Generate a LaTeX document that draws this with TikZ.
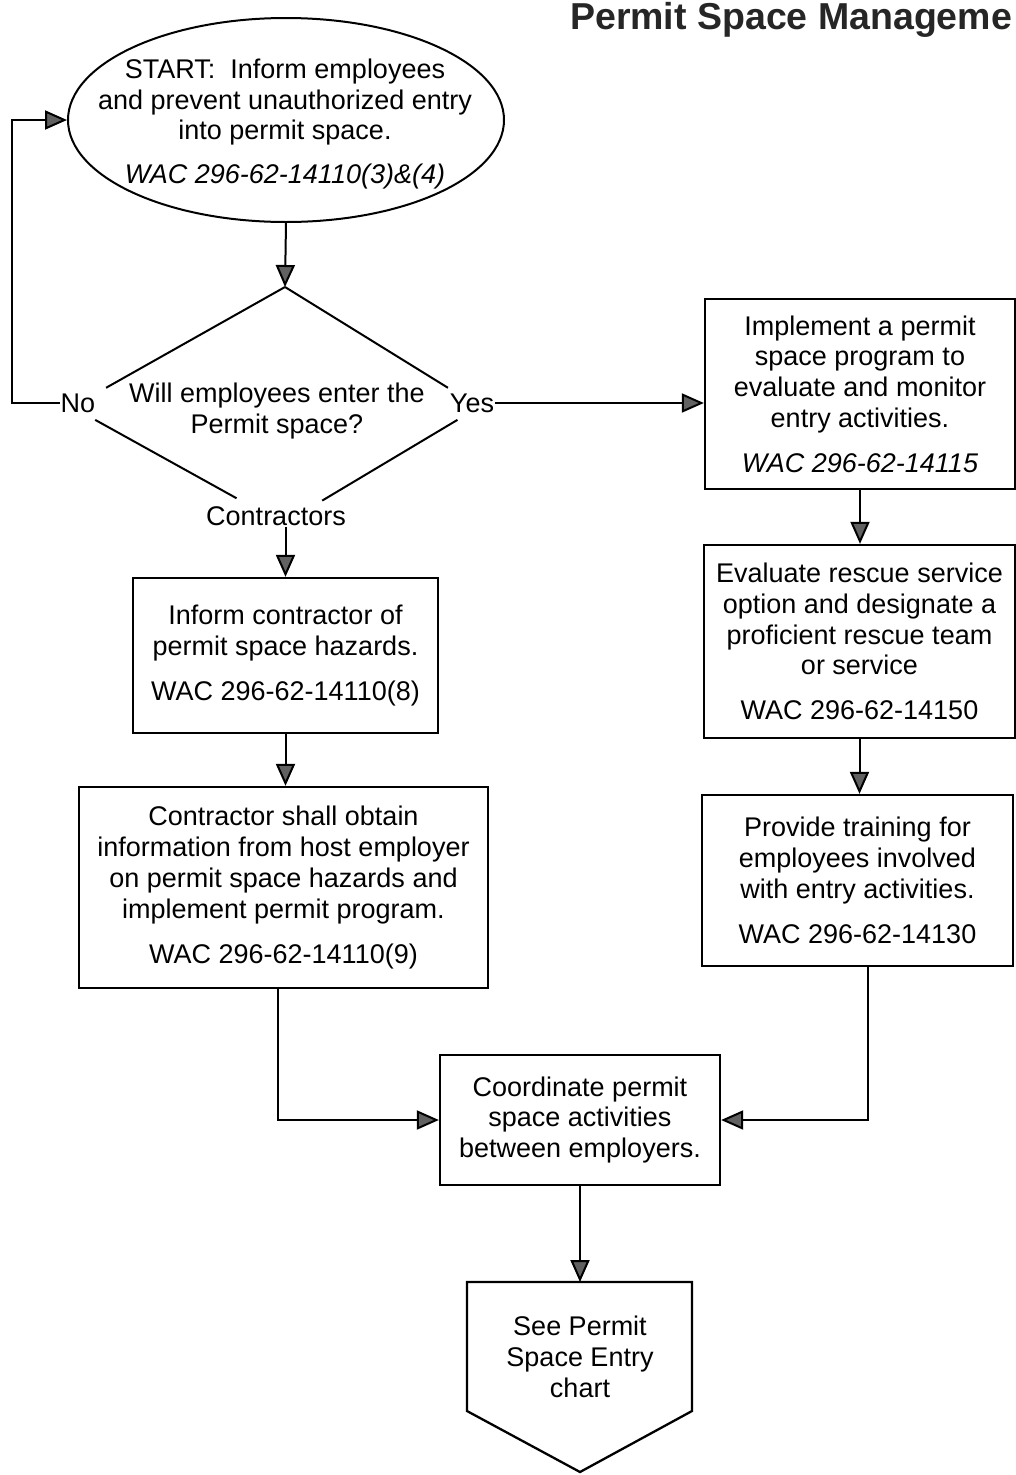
\documentclass[tikz,border=0pt]{standalone}
\usepackage{fontspec}
\setmainfont{Liberation Sans}
\usetikzlibrary{arrows.meta,calc,shapes.geometric}
\begin{document}
\begin{tikzpicture}[x=1pt,y=-1pt,
  txt/.style={align=center, inner sep=0pt, font=\fontsize{27}{30.8}\selectfont},
  box/.style={txt, draw=black, line width=2.3pt},
  lbl/.style={txt, inner sep=1pt},
  ln/.style={line width=2pt},
  arr/.style={line width=2pt, -{Triangle[length=22pt,width=19pt,fill=black!62]}},
]
\useasboundingbox (0,0) rectangle (1016,1475);

% title
\node[anchor=base west, inner sep=0pt, font=\fontsize{37.5}{40}\selectfont\bfseries, text=black!85] (title) at (570,29) {Permit Space Manageme};

% start ellipse
\node[draw, ellipse, line width=2pt, minimum width=436pt, minimum height=204pt, inner sep=0pt] (start) at (286,120) {};
\node[txt] (starttxt) at (285,124)
  {START:\ \ Inform employees\\and prevent unauthorized entry\\into permit space.\\[13pt]\textit{WAC 296-62-14110(3)\&(4)}};

% decision diamond
\coordinate (T) at (285,287);
\coordinate (L) at (72,407);
\coordinate (R) at (479,407);
\coordinate (B) at (283,524);
\draw[ln] (T) -- ($(T)!0.84!(L)$);
\draw[ln] (T) -- ($(T)!0.84!(R)$);
\draw[ln] ($(L)!0.11!(B)$) -- ($(L)!0.78!(B)$);
\draw[ln] ($(R)!0.11!(B)$) -- ($(R)!0.80!(B)$);
\node[txt] (q) at (277,411) {Will employees enter the\\Permit space?};
\node[lbl] (no) at (78,403) {No};
\node[lbl] (yes) at (472,403) {Yes};
\node[lbl] (contr) at (276,516) {Contractors};
\coordinate (loop) at (12,0);

% left column
\node[box, minimum width=305pt, minimum height=155pt] (inform) at (285.5,655.5)
  {Inform contractor of\\permit space hazards.\\[14pt]WAC 296-62-14110(8)};
\node[box, minimum width=409pt, minimum height=201pt] (cont) at (283.5,887.5)
  {Contractor shall obtain\\information from host employer\\on permit space hazards and\\implement permit program.\\[14pt]WAC 296-62-14110(9)};

% right column
\node[box, minimum width=310pt, minimum height=190pt] (impl) at (860,394)
  {Implement a permit\\space program to\\evaluate and monitor\\entry activities.\\[14pt]\textit{WAC 296-62-14115}};
\node[box, minimum width=311pt, minimum height=193pt] (eval) at (859.5,641.5)
  {Evaluate rescue service\\option and designate a\\proficient rescue team\\or service\\[14pt]WAC 296-62-14150};
\node[box, minimum width=311pt, minimum height=171pt] (train) at (857.5,880.5)
  {Provide training for\\employees involved\\with entry activities.\\[14pt]WAC 296-62-14130};

% bottom
\node[box, minimum width=280pt, minimum height=130pt] (coord) at (580,1120)
  {Coordinate permit\\space activities\\between employers.};
\coordinate (p1) at (467,1282);
\coordinate (p2) at (692,1282);
\coordinate (p3) at (692,1411);
\coordinate (p4) at (580,1472);
\coordinate (p5) at (467,1411);
\draw[line width=2.3pt, line join=miter] (p1) -- (p2) -- (p3) -- (p4) -- (p5) -- cycle;
\node[txt] (see) at (580,1357) {See Permit\\Space Entry\\chart};

% connectors
\draw[arr] (start.south) -- (T);
\draw[arr] (no.west) -- (no.west -| loop) |- (start.west);
\draw[arr] (yes.east) -- (yes.east -| impl.west);
\draw[arr] (contr.south -| inform.north) -- (inform.north);
\draw[arr] (inform.south) -- (inform.south |- cont.north);
\draw[arr] (impl.south) -- (impl.south |- eval.north);
\draw[arr] (eval.south) -- (eval.south |- train.north);
\draw[arr] ($(train.south)+(10,0)$) |- (coord.east);
\draw[arr] ($(cont.south)+(-6,0)$) |- (coord.west);
\draw[arr] (coord.south) -- (coord.south |- p1);
\end{tikzpicture}
\end{document}
